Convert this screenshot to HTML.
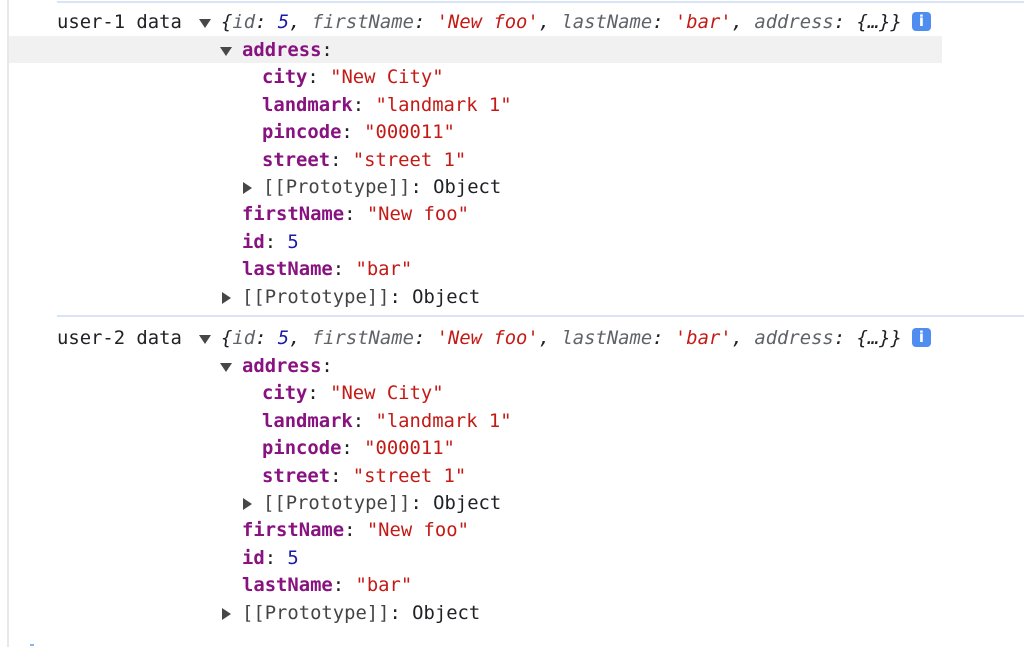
<!DOCTYPE html>
<html><head><meta charset="utf-8"><style>
html,body{margin:0;padding:0;background:#fff;width:1024px;height:647px;overflow:hidden;position:relative}
.l{position:absolute;height:28px;line-height:28px;font-family:"DejaVu Sans Mono","Liberation Mono",monospace;font-size:18.85px;color:#202124;white-space:pre;margin-top:2px}
.k{color:#881280;font-weight:bold}
.s{color:#c41a16}
.n{color:#1a1aa6}
.g{color:#444}
.i{font-style:italic}
.ik{color:#5f6368}
.tri{position:absolute;width:0;height:0;margin-top:2px}
.down{border-left:6px solid transparent;border-right:6px solid transparent;border-top:9px solid #474747}
.right{border-top:6px solid transparent;border-bottom:6px solid transparent;border-left:9px solid #474747}
.info{position:absolute;width:19px;height:19px;background:#4f8df0;border-radius:4px;color:#fff;font:bold 15px "DejaVu Sans",sans-serif;text-align:center;line-height:19px}
</style></head><body>
<div style="position:absolute;left:7px;top:0;width:2px;height:647px;background:#e8e8e8"></div>
<div style="position:absolute;left:57px;top:1px;width:967px;height:2px;background:#d9e4f7"></div>
<div style="position:absolute;left:57px;top:315px;width:967px;height:2px;background:#d9e4f7"></div>
<div style="position:absolute;left:9px;top:36px;width:933px;height:27px;background:#f1f1f1"></div>

<!-- block 1 -->
<div class="l" style="left:57px;top:7px">user-1 data</div>
<div class="tri down" style="left:199px;top:17px"></div>
<div class="l i" style="left:221px;top:7px">{<span class="ik">id</span>: <span class="n">5</span>, <span class="ik">firstName</span>: <span class="s">'New foo'</span>, <span class="ik">lastName</span>: <span class="s">'bar'</span>, <span class="ik">address</span>: {…}}</div>
<div class="info" style="left:912px;top:12px">i</div>
<div class="tri down" style="left:220px;top:45px"></div>
<div class="l" style="left:242px;top:35px"><span class="k">address</span>:</div>
<div class="l" style="left:262px;top:62px"><span class="k">city</span>: <span class="s">"New City"</span></div>
<div class="l" style="left:262px;top:90px"><span class="k">landmark</span>: <span class="s">"landmark 1"</span></div>
<div class="l" style="left:262px;top:117px"><span class="k">pincode</span>: <span class="s">"000011"</span></div>
<div class="l" style="left:262px;top:145px"><span class="k">street</span>: <span class="s">"street 1"</span></div>
<div class="tri right" style="left:243px;top:180px"></div>
<div class="l" style="left:263px;top:172px"><span class="g">[[Prototype]]</span>: Object</div>
<div class="l" style="left:242px;top:199px"><span class="k">firstName</span>: <span class="s">"New foo"</span></div>
<div class="l" style="left:242px;top:227px"><span class="k">id</span>: <span class="n">5</span></div>
<div class="l" style="left:242px;top:254px"><span class="k">lastName</span>: <span class="s">"bar"</span></div>
<div class="tri right" style="left:222px;top:290px"></div>
<div class="l" style="left:242px;top:282px"><span class="g">[[Prototype]]</span>: Object</div>

<!-- block 2 -->
<div class="l" style="left:57px;top:323px">user-2 data</div>
<div class="tri down" style="left:199px;top:333px"></div>
<div class="l i" style="left:221px;top:323px">{<span class="ik">id</span>: <span class="n">5</span>, <span class="ik">firstName</span>: <span class="s">'New foo'</span>, <span class="ik">lastName</span>: <span class="s">'bar'</span>, <span class="ik">address</span>: {…}}</div>
<div class="info" style="left:912px;top:328px">i</div>
<div class="tri down" style="left:220px;top:361px"></div>
<div class="l" style="left:242px;top:351px"><span class="k">address</span>:</div>
<div class="l" style="left:262px;top:378px"><span class="k">city</span>: <span class="s">"New City"</span></div>
<div class="l" style="left:262px;top:406px"><span class="k">landmark</span>: <span class="s">"landmark 1"</span></div>
<div class="l" style="left:262px;top:433px"><span class="k">pincode</span>: <span class="s">"000011"</span></div>
<div class="l" style="left:262px;top:461px"><span class="k">street</span>: <span class="s">"street 1"</span></div>
<div class="tri right" style="left:243px;top:496px"></div>
<div class="l" style="left:263px;top:488px"><span class="g">[[Prototype]]</span>: Object</div>
<div class="l" style="left:242px;top:515px"><span class="k">firstName</span>: <span class="s">"New foo"</span></div>
<div class="l" style="left:242px;top:543px"><span class="k">id</span>: <span class="n">5</span></div>
<div class="l" style="left:242px;top:570px"><span class="k">lastName</span>: <span class="s">"bar"</span></div>
<div class="tri right" style="left:222px;top:606px"></div>
<div class="l" style="left:242px;top:598px"><span class="g">[[Prototype]]</span>: Object</div>
<div style="position:absolute;left:30px;top:644px;width:4px;height:2px;background:#8ab4f8"></div>
</body></html>
